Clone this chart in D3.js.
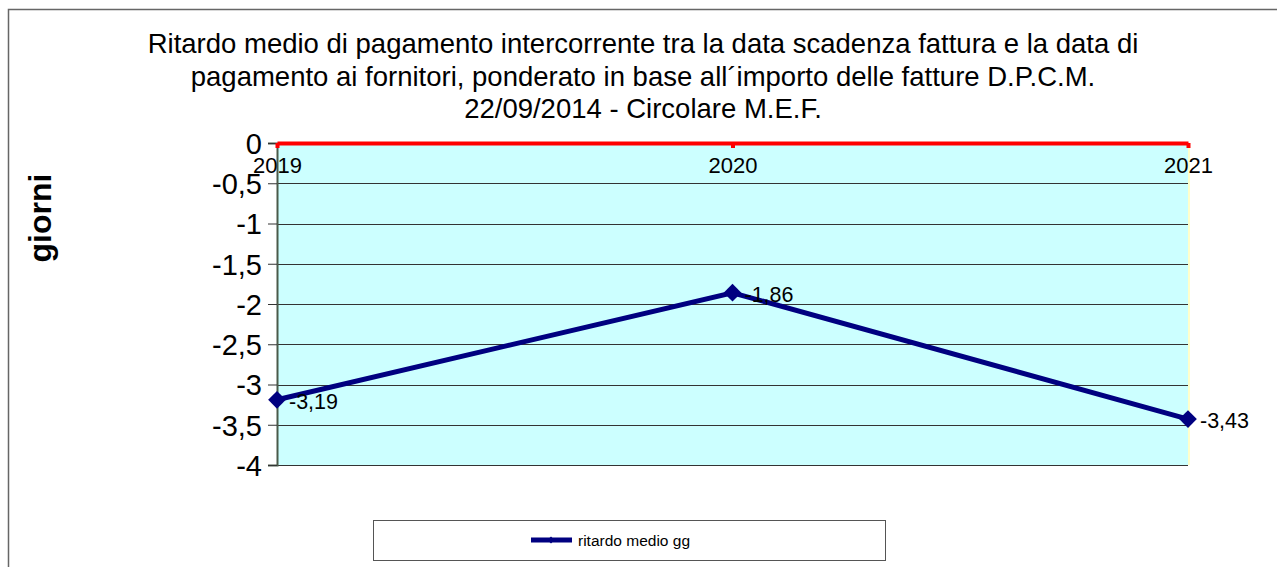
<!DOCTYPE html>
<html>
<head>
<meta charset="utf-8">
<script src="https://cdn.jsdelivr.net/npm/d3@7"></script>
<style>
  body { margin:0; background:#fff; }
  text { font-family: "Liberation Sans", Arial, sans-serif; }
</style>
</head>
<body>
<div id="chart"></div>
<script>
// data
var years = ["2019", "2020", "2021"];
var ritardo = [-3.19, -1.86, -3.43];
var yTicks = [0, -0.5, -1, -1.5, -2, -2.5, -3, -3.5, -4];
var titleLines = [
  "Ritardo medio di pagamento intercorrente tra la data scadenza fattura e la data di",
  "pagamento ai fornitori, ponderato in base all\u00b4importo delle fatture D.P.C.M.",
  "22/09/2014 - Circolare M.E.F."
];
var seriesName = "ritardo medio gg";

var W = 1277, H = 567;
var pLeft = 277, pRight = 1188, pTop = 143, pBottom = 465;

var svg = d3.select("#chart").append("svg")
  .attr("width", W).attr("height", H);

// outer frame
svg.append("rect")
  .attr("x", 8.5).attr("y", 9.5)
  .attr("width", W).attr("height", H)
  .attr("fill", "none").attr("stroke", "#666").attr("stroke-width", 1.5);

var x = d3.scalePoint().domain(years).range([pLeft, pRight]);
var y = d3.scaleLinear().domain([-4, 0]).range([pBottom, pTop]);

// plot area
svg.append("rect")
  .attr("x", pLeft).attr("y", pTop)
  .attr("width", pRight - pLeft).attr("height", pBottom - pTop)
  .attr("fill", "#ccffff");

// right edge (yellowish)
svg.append("line")
  .attr("x1", pRight + 1).attr("x2", pRight + 1)
  .attr("y1", pTop).attr("y2", pBottom)
  .attr("stroke", "#ffffcc").attr("stroke-width", 2);

// grid lines
svg.selectAll(".grid").data(yTicks.filter(function(d){ return d !== 0; }))
  .enter().append("line")
  .attr("x1", pLeft).attr("x2", pRight)
  .attr("y1", function(d){ return Math.round(y(d)) + 0.5; })
  .attr("y2", function(d){ return Math.round(y(d)) + 0.5; })
  .attr("stroke", "#333").attr("stroke-width", 1);

// y axis
var yAxis = d3.axisLeft(y)
  .tickValues(yTicks)
  .tickSize(9)
  .tickPadding(6)
  .tickFormat(function(d){ return String(d).replace(".", ","); });

var gy = svg.append("g")
  .attr("transform", "translate(" + pLeft + ",0)")
  .call(yAxis);
gy.select(".domain").attr("stroke", "#4a5a4a").attr("stroke-width", 2);
gy.selectAll(".tick line").attr("stroke", "#333");
gy.selectAll(".tick text")
  .attr("font-size", 29)
  .attr("fill", "#000")
  .attr("dy", "0.36em")
  .style("font-family", "'Liberation Sans', Arial, sans-serif");

// x axis on top (red)
var xAxis = d3.axisBottom(x).tickSize(5).tickPadding(10).tickSizeOuter(0);
var gx = svg.append("g")
  .attr("transform", "translate(0," + pTop + ")")
  .call(xAxis);
gx.select(".domain").attr("stroke", "#ff0000").attr("stroke-width", 4);
gx.selectAll(".tick line").attr("stroke", "#ff0000").attr("stroke-width", 4);
gx.selectAll(".tick text")
  .attr("font-size", 22)
  .attr("fill", "#000")
  .attr("dy", "0.66em")
  .style("font-family", "'Liberation Sans', Arial, sans-serif");

// title
svg.selectAll(".title").data(titleLines)
  .enter().append("text")
  .attr("x", 643)
  .attr("y", function(d, i){ return 53 + i * 32.5; })
  .attr("text-anchor", "middle")
  .attr("font-size", 27.5)
  .attr("fill", "#000")
  .text(function(d){ return d; });

// y label
svg.append("text")
  .attr("transform", "translate(51,218) rotate(-90)")
  .attr("text-anchor", "middle")
  .attr("font-size", 32)
  .attr("font-weight", "bold")
  .text("giorni");

// line
var line = d3.line()
  .x(function(d, i){ return x(years[i]); })
  .y(function(d){ return y(d); });

svg.append("path")
  .datum(ritardo)
  .attr("d", line)
  .attr("fill", "none")
  .attr("stroke", "#000080")
  .attr("stroke-width", 5);

var diamond = d3.symbol().type(d3.symbolDiamond2).size(200);
svg.selectAll(".pt").data(ritardo)
  .enter().append("path")
  .attr("transform", function(d, i){ return "translate(" + x(years[i]) + "," + y(d) + ")"; })
  .attr("d", diamond)
  .attr("fill", "#000080");

// data labels
svg.selectAll(".lbl").data(ritardo)
  .enter().append("text")
  .attr("x", function(d, i){ return x(years[i]) + 12; })
  .attr("y", function(d){ return y(d) + 9; })
  .attr("font-size", 21.5)
  .attr("fill", "#000")
  .text(function(d){ return String(d).replace(".", ","); });

// legend
var lg = svg.append("g");
lg.append("rect")
  .attr("x", 373.5).attr("y", 520.5)
  .attr("width", 512).attr("height", 40)
  .attr("fill", "#fff").attr("stroke", "#555").attr("stroke-width", 1);
lg.append("line")
  .attr("x1", 531).attr("x2", 572)
  .attr("y1", 540).attr("y2", 540)
  .attr("stroke", "#000080").attr("stroke-width", 5);
lg.append("path")
  .attr("transform", "translate(551,540)")
  .attr("d", d3.symbol().type(d3.symbolDiamond2).size(30))
  .attr("fill", "#000080");
lg.append("text")
  .attr("x", 578).attr("y", 545.5)
  .attr("font-size", 15.5)
  .attr("fill", "#000")
  .text(seriesName);
</script>
</body>
</html>
